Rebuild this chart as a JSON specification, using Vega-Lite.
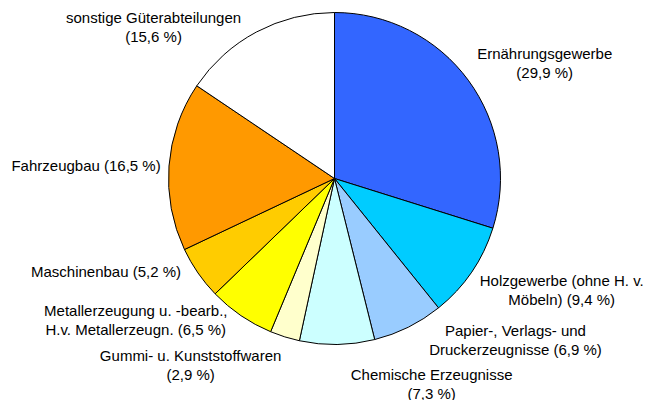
{
  "$schema": "https://vega.github.io/schema/vega-lite/v6.json",
  "width": 625,
  "height": 357,
  "autosize": {"type": "none"},
  "padding": {"left": 22, "top": 0, "right": 0, "bottom": 43},
  "background": "white",
  "view": {"stroke": null},
  "data": {
    "values": [
      {"rank": 1, "sector": "Ernährungsgewerbe", "share": 29.9, "label": "Ernährungsgewerbe\n(29,9 %)"},
      {"rank": 2, "sector": "Holzgewerbe (ohne H. v. Möbeln)", "share": 9.4, "label": "Holzgewerbe (ohne H. v.\nMöbeln) (9,4 %)"},
      {"rank": 3, "sector": "Papier-, Verlags- und Druckerzeugnisse", "share": 6.9, "label": "Papier-, Verlags- und\nDruckerzeugnisse (6,9 %)"},
      {"rank": 4, "sector": "Chemische Erzeugnisse", "share": 7.3, "label": "Chemische Erzeugnisse\n(7,3 %)"},
      {"rank": 5, "sector": "Gummi- u. Kunststoffwaren", "share": 2.9, "label": "Gummi- u. Kunststoffwaren\n(2,9 %)"},
      {"rank": 6, "sector": "Metallerzeugung u. -bearb., H.v. Metallerzeugn.", "share": 6.5, "label": "Metallerzeugung u. -bearb.,\nH.v. Metallerzeugn. (6,5 %)"},
      {"rank": 7, "sector": "Maschinenbau", "share": 5.2, "label": "Maschinenbau (5,2 %)"},
      {"rank": 8, "sector": "Fahrzeugbau", "share": 16.5, "label": "Fahrzeugbau (16,5 %)"},
      {"rank": 9, "sector": "sonstige Güterabteilungen", "share": 15.6, "label": "sonstige Güterabteilungen\n(15,6 %)"}
    ]
  },
  "encoding": {
    "theta": {"field": "share", "type": "quantitative", "stack": true},
    "order": {"field": "rank", "type": "quantitative", "sort": "ascending"}
  },
  "layer": [
    {
      "mark": {"type": "arc", "outerRadius": 166, "stroke": "black", "strokeWidth": 1},
      "encoding": {
        "color": {
          "field": "sector",
          "type": "nominal",
          "scale": {
            "domain": ["Ernährungsgewerbe", "Holzgewerbe (ohne H. v. Möbeln)", "Papier-, Verlags- und Druckerzeugnisse", "Chemische Erzeugnisse", "Gummi- u. Kunststoffwaren", "Metallerzeugung u. -bearb., H.v. Metallerzeugn.", "Maschinenbau", "Fahrzeugbau", "sonstige Güterabteilungen"],
            "range": ["#3366FF", "#00CCFF", "#99CCFF", "#CCFFFF", "#FFFFCC", "#FFFF00", "#FFCC00", "#FF9900", "#FFFFFF"]
          },
          "legend": null
        }
      }
    },
    {
      "mark": {
        "type": "text",
        "radius": 200,
        "font": "Liberation Sans",
        "fontSize": 15,
        "lineBreak": "\n",
        "lineHeight": 19,
        "align": "center",
        "baseline": "middle",
        "fill": "black",
        "dx": {"expr": "[49,62,92,94,-84,-86,-64,-49,-87][datum.rank-1]"},
        "dy": {"expr": "[-6,-10,-27,-3,-13,-33,-20,3,16][datum.rank-1]"}
      },
      "encoding": {
        "detail": {"field": "sector", "type": "nominal"},
        "text": {"field": "label", "type": "nominal"}
      }
    }
  ]
}
